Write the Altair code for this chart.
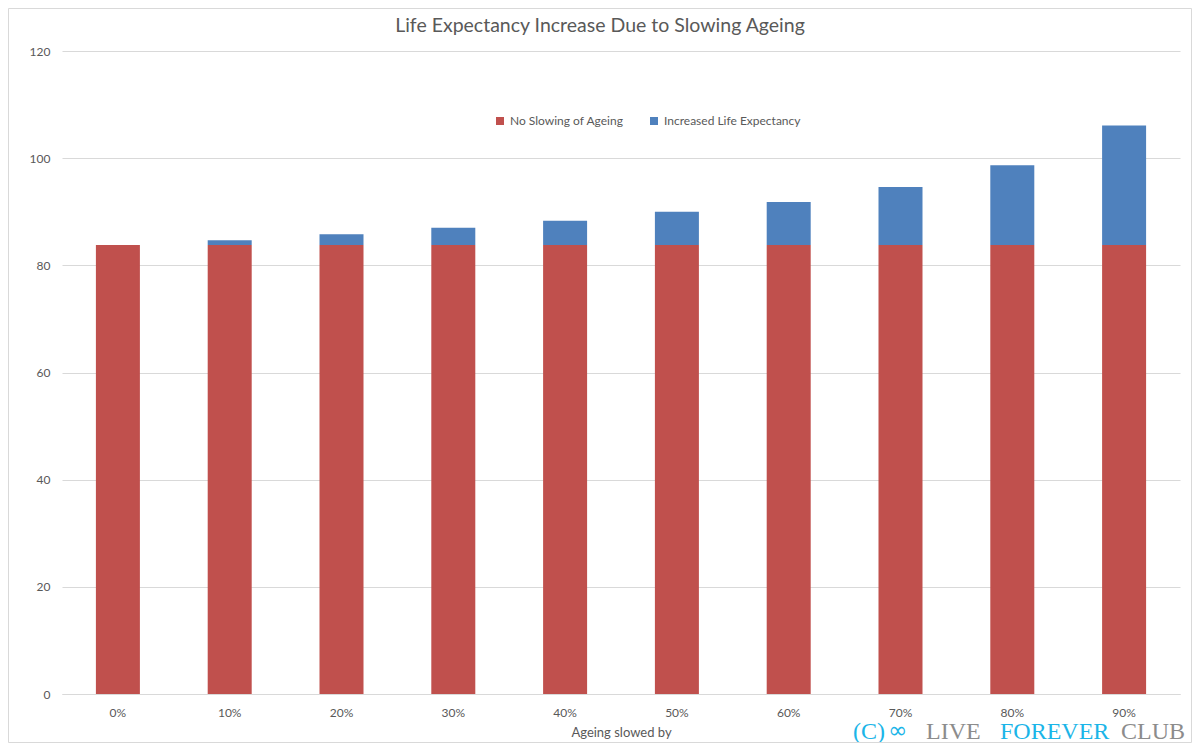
import altair as alt
import pandas as pd

categories = ["0%", "10%", "20%", "30%", "40%", "50%", "60%", "70%", "80%", "90%"]
base_values = [83.8, 83.8, 83.8, 83.8, 83.8, 83.8, 83.8, 83.8, 83.8, 83.8]
total_values = [83.8, 84.7, 85.8, 87.0, 88.3, 90.0, 91.8, 94.6, 98.7, 106.1]
series_names = ["No Slowing of Ageing", "Increased Life Expectancy"]
series_colors = ["#C0504D", "#4F81BD"]
chart_title = "Life Expectancy Increase Due to Slowing Ageing"

rows = []
for c, b, t in zip(categories, base_values, total_values):
    rows.append({"cat": c, "series": series_names[0], "value": b, "ord": 0})
    rows.append({"cat": c, "series": series_names[1], "value": round(t - b, 2), "ord": 1})
df = pd.DataFrame(rows)

FONT = "Lato"
GREY = "#595959"

bars = alt.Chart(df).mark_bar(size=44).encode(
    x=alt.X("cat:N", sort=categories,
            scale=alt.Scale(paddingInner=0.6, paddingOuter=0.3),
            axis=alt.Axis(title="Ageing slowed by", labelAngle=0, ticks=False,
                          domainColor="#D9D9D9", labelColor=GREY, labelFontSize=12,
                          labelFont=FONT, labelPadding=13, titleFont=FONT,
                          titleFontSize=13, titleFontWeight="normal", titleColor=GREY,
                          titlePadding=8, grid=False)),
    y=alt.Y("value:Q", stack="zero",
            scale=alt.Scale(domain=[0, 120], nice=False),
            axis=alt.Axis(title=None, values=[0, 20, 40, 60, 80, 100, 120], ticks=False,
                          domain=False, gridColor="#D9D9D9", labelColor=GREY,
                          labelFontSize=12, labelFont=FONT, labelPadding=12)),
    color=alt.Color("series:N", sort=series_names,
                    scale=alt.Scale(domain=series_names, range=series_colors),
                    legend=alt.Legend(title=None, orient="none", legendX=432, legendY=64,
                                      direction="horizontal", symbolType="square",
                                      symbolSize=64, symbolStrokeWidth=0,
                                      labelFontSize=12, labelFont=FONT, labelColor=GREY,
                                      columnPadding=24, labelOffset=4)),
    order=alt.Order("ord:Q"),
)

title_mark = alt.Chart(pd.DataFrame({"t": [chart_title]})).mark_text(
    font=FONT, fontSize=19.5, color=GREY, align="center", baseline="middle"
).encode(x=alt.value(538), y=alt.value(-25), text="t:N")

wm_text = ["(C)", "LIVE", "FOREVER", "CLUB"]
wm_color = ["#1BB5E8", "#8C8C8C", "#1BB5E8", "#8C8C8C"]
wm_x = [791, 864, 938, 1059]
wm = pd.DataFrame({"t": wm_text, "c": wm_color, "px": wm_x})
watermark = alt.Chart(wm).mark_text(
    font="Liberation Serif", fontSize=24, align="left", baseline="alphabetic"
).encode(
    x=alt.X("px:Q", scale=None),
    y=alt.value(688),
    text="t:N",
    color=alt.Color("c:N", scale=None),
)

logo = alt.Chart(pd.DataFrame({"t": ["∞"]})).mark_text(
    font="DejaVu Sans", fontSize=23, align="left", baseline="alphabetic", color="#1BB5E8"
).encode(x=alt.value(826), y=alt.value(687), text="t:N")

border = alt.Chart(pd.DataFrame({"a": [0]})).mark_rect(
    fill=None, stroke="#D9D9D9", strokeWidth=1
).encode(x=alt.value(-53.5), x2=alt.value(1129.5), y=alt.value(-42.5), y2=alt.value(691.5))

chart = alt.layer(bars, title_mark, watermark, logo, border).properties(
    width=1118, height=643,
    autosize=alt.AutoSizeParams(type="none"),
    padding={"left": 54, "top": 43, "right": 12, "bottom": 49},
    background="white",
).configure_view(stroke=None)

chart.save("out.html", embed_options={"renderer": "svg", "actions": False})
